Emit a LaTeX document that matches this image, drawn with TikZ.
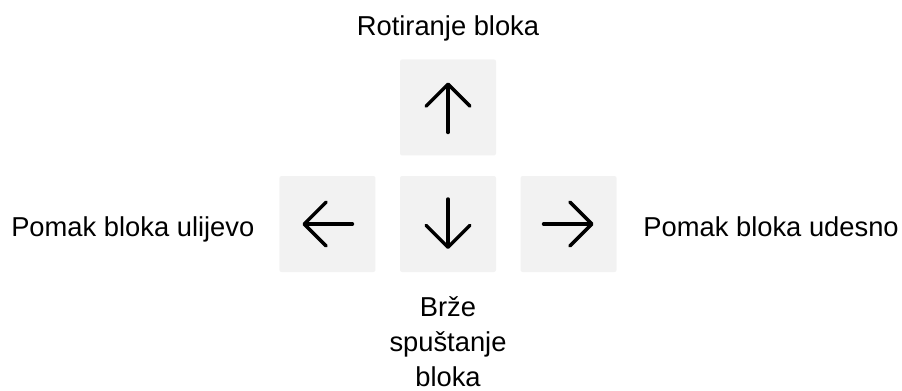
\documentclass[tikz,border=0pt]{standalone}
\usepackage{fontspec}
\setmainfont{Liberation Sans}
\usetikzlibrary{
    arrows.meta,
    positioning,
}
\definecolor{keyfill}{RGB}{242,242,242}
\tikzstyle{key}=[fill=keyfill,rounded corners=1.5pt,minimum size=72pt,inner sep=0pt]
\tikzstyle{keyarrow}=[line width=2.6pt,line cap=round,-{Straight Barb[length=16.5pt,width=33pt,round]}]
\tikzstyle{caption}=[inner sep=0pt,font=\fontsize{20.5pt}{26.25pt}\selectfont]

\begin{document}
\begin{tikzpicture}[x=0.75pt,y=-0.75pt]
                \useasboundingbox (0,0) rectangle (902,390);
                % keys
                \node[key] (down) at (448,224) {};
                \node[key,left=18pt of down] (left) {};
                \node[key,right=18pt of down] (right) {};
                \node[key,above=15pt of down] (up) {};
                % arrows inside the keys
                \draw[keyarrow] ([yshift=-18.75pt]up.center) -- ([yshift=18.75pt]up.center);
                \draw[keyarrow] ([yshift=18.75pt]down.center) -- ([yshift=-18.75pt]down.center);
                \draw[keyarrow] ([xshift=18.75pt]left.center) -- ([xshift=-18.75pt]left.center);
                \draw[keyarrow] ([xshift=-18.75pt]right.center) -- ([xshift=18.75pt]right.center);
                % captions
                \node[caption,anchor=base] (rotate) at (448,35) {Rotiranje bloka};
                \node[caption,anchor=base west] (moveleft) at (11,236) {Pomak bloka ulijevo};
                \node[caption,anchor=base east] (moveright) at (899,236) {Pomak bloka udesno};
                \node[caption,anchor=base,align=center] (drop) at (448,386) {Brže\\spuštanje\\bloka};
            \end{tikzpicture}
\end{document}
